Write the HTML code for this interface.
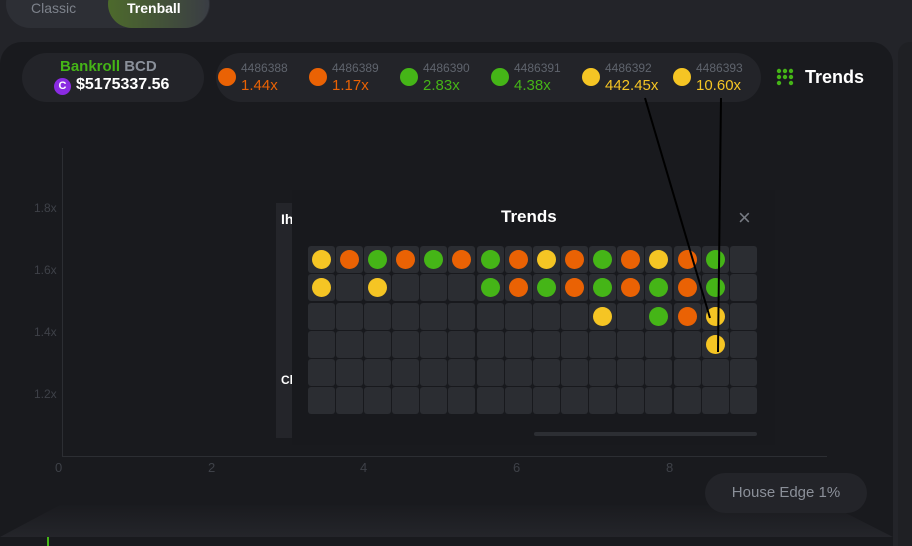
<!DOCTYPE html><html style="width:912px;height:546px;overflow:hidden"><head><style>
*{margin:0;padding:0;box-sizing:border-box}
body{width:912px;height:546px;background:#232429;font-family:"Liberation Sans",sans-serif;position:relative;overflow:hidden}
.a{position:absolute}
.dot{position:absolute;border-radius:50%}
</style></head><body>
<div class="a" style="left:6px;top:-20px;width:204px;height:48px;border-radius:24px;background:#2d2f35"></div>
<div class="a" style="left:108px;top:-20px;width:101px;height:48px;border-radius:24px;background:linear-gradient(90deg,#4d6a2c,#3a3d44)"></div>
<div class="a" style="left:31px;top:0px;color:#7d828b;font-size:14px">Classic</div>
<div class="a" style="left:127px;top:0px;color:#fff;font-size:14px;font-weight:bold">Trenball</div>
<div class="a" style="left:0;top:42px;width:893px;height:504px;border-radius:22px 22px 0 0;background:#191a1e"></div>
<div class="a" style="left:898px;top:42px;width:14px;height:504px;border-radius:12px 0 0 0;background:#1f2024"></div>
<svg class="a" style="left:0;top:500px" width="912" height="46"><defs><linearGradient id="g" x1="0" y1="0" x2="0" y2="1"><stop offset="0" stop-color="#1a1b1f"/><stop offset="1" stop-color="#24252a"/></linearGradient></defs><polygon points="60,5 830,5 893,37 0,37" fill="url(#g)"/><rect x="0" y="37" width="893" height="9" fill="#191a1e"/><rect x="47" y="37" width="2" height="9" fill="#45b517"/></svg>
<div class="a" style="left:22px;top:53px;width:182px;height:49px;border-radius:25px;background:#232429"></div>
<div class="a" style="left:60px;top:58px;font-size:15px;font-weight:bold;color:#45b517">Bankroll <span style="color:#8a909a">BCD</span></div>
<div class="dot" style="left:54px;top:78px;width:17px;height:17px;background:#8a2be2;color:#fff;font-size:11px;text-align:center;line-height:17px;font-weight:bold">C</div>
<div class="a" style="left:76px;top:76px;font-size:16px;font-weight:bold;color:#fff">$5175337.56</div>
<div class="a" style="left:216px;top:53px;width:545px;height:49px;border-radius:25px;background:#232429"></div>
<div id="hist"></div>
<div class="a" style="left:776px;top:68px;width:20px;height:20px">
<svg width="20" height="20"><g fill="#45b517"><circle cx="3" cy="3" r="2.2"/><circle cx="9" cy="3" r="2.2"/><circle cx="15" cy="3" r="2.2"/><circle cx="3" cy="9" r="2.2"/><circle cx="9" cy="9" r="2.2"/><circle cx="15" cy="9" r="2.2"/><circle cx="3" cy="15" r="2.2"/><circle cx="15" cy="15" r="2.2"/></g></svg></div>
<div class="a" style="left:805px;top:67px;font-size:18px;font-weight:bold;color:#fff">Trends</div>
<div class="a" style="left:62px;top:148px;width:1px;height:309px;background:#2c2e33"></div>
<div class="a" style="left:62px;top:456px;width:765px;height:1px;background:#2c2e33"></div>
<div class="a" style="left:34px;top:201px;color:#3e4148;font-size:12px">1.8x</div>
<div class="a" style="left:34px;top:263px;color:#3e4148;font-size:12px">1.6x</div>
<div class="a" style="left:34px;top:325px;color:#3e4148;font-size:12px">1.4x</div>
<div class="a" style="left:34px;top:387px;color:#3e4148;font-size:12px">1.2x</div>
<div class="a" style="left:55px;top:460px;color:#3e4148;font-size:13px">0</div>
<div class="a" style="left:208px;top:460px;color:#3e4148;font-size:13px">2</div>
<div class="a" style="left:360px;top:460px;color:#3e4148;font-size:13px">4</div>
<div class="a" style="left:513px;top:460px;color:#3e4148;font-size:13px">6</div>
<div class="a" style="left:666px;top:460px;color:#3e4148;font-size:13px">8</div>
<div class="a" style="left:705px;top:473px;width:162px;height:40px;border-radius:20px;background:#232429;color:#8a8f98;font-size:15px;text-align:center;line-height:40px">House Edge 1%</div>
<div class="a" style="left:276px;top:203px;width:16px;height:235px;background:#24252a"></div>
<div class="a" style="left:281px;top:211px;color:#fff;font-size:14px;font-weight:bold">Ih</div>
<div class="a" style="left:281px;top:373px;color:#fff;font-size:12px;font-weight:bold">Cl</div>
<div class="a" style="left:292px;top:190px;width:483px;height:255px;background:#18191d"></div>
<div class="a" style="left:501px;top:207px;color:#fff;font-size:17px;font-weight:bold">Trends</div>
<div class="a" style="left:738px;top:205px;color:#777b83;font-size:22px">×</div>
<div class="a" style="left:534px;top:432px;width:223px;height:4px;border-radius:2px;background:#2c2e33"></div>
<div id="grid"></div>
<svg class="a" style="left:0;top:0" width="912" height="546"><line x1="645" y1="98" x2="710" y2="318" stroke="#000" stroke-width="2"/><line x1="721" y1="98" x2="718" y2="352" stroke="#000" stroke-width="2"/></svg>
<script>
var Y='#f5c524',O='#ea6204',G='#45b517';
var h=[['4486388','1.44x',O],['4486389','1.17x',O],['4486390','2.83x',G],['4486391','4.38x',G],['4486392','442.45x',Y],['4486393','10.60x',Y]];
var hx=[218,309,400,491,582,673],s='';
h.forEach(function(e,i){var x=hx[i];s+='<div class="dot" style="left:'+x+'px;top:68px;width:18px;height:18px;background:'+e[2]+'"></div><div class="a" style="left:'+(x+23)+'px;top:61px;color:#5f646d;font-size:12px">'+e[0]+'</div><div class="a" style="left:'+(x+23)+'px;top:77px;color:'+e[2]+';font-size:15px">'+e[1]+'</div>';});
document.getElementById('hist').innerHTML=s;
var cx=[308,336,364,392,420,448,477,505,533,561,589,617,645,674,702,730],ry=[246,274,303,331,359,387];
var d={};
var r0=[Y,O,G,O,G,O,G,O,Y,O,G,O,Y,O,G];r0.forEach(function(c,i){d['0_'+i]=c});
var r1={0:Y,2:Y,6:G,7:O,8:G,9:O,10:G,11:O,12:G,13:O,14:G};for(var k in r1)d['1_'+k]=r1[k];
d['2_10']=Y;d['2_12']=G;d['2_13']=O;d['2_14']=Y;d['3_14']=Y;
s='';
ry.forEach(function(y,r){cx.forEach(function(x,c){s+='<div class="a" style="left:'+x+'px;top:'+y+'px;width:27px;height:27px;border-radius:3px;background:#2b2d32"></div>';var col=d[r+'_'+c];if(col)s+='<div class="dot" style="left:'+(x+4)+'px;top:'+(y+4)+'px;width:19px;height:19px;background:'+col+'"></div>';});});
document.getElementById('grid').innerHTML=s;
</script>
</body></html>
